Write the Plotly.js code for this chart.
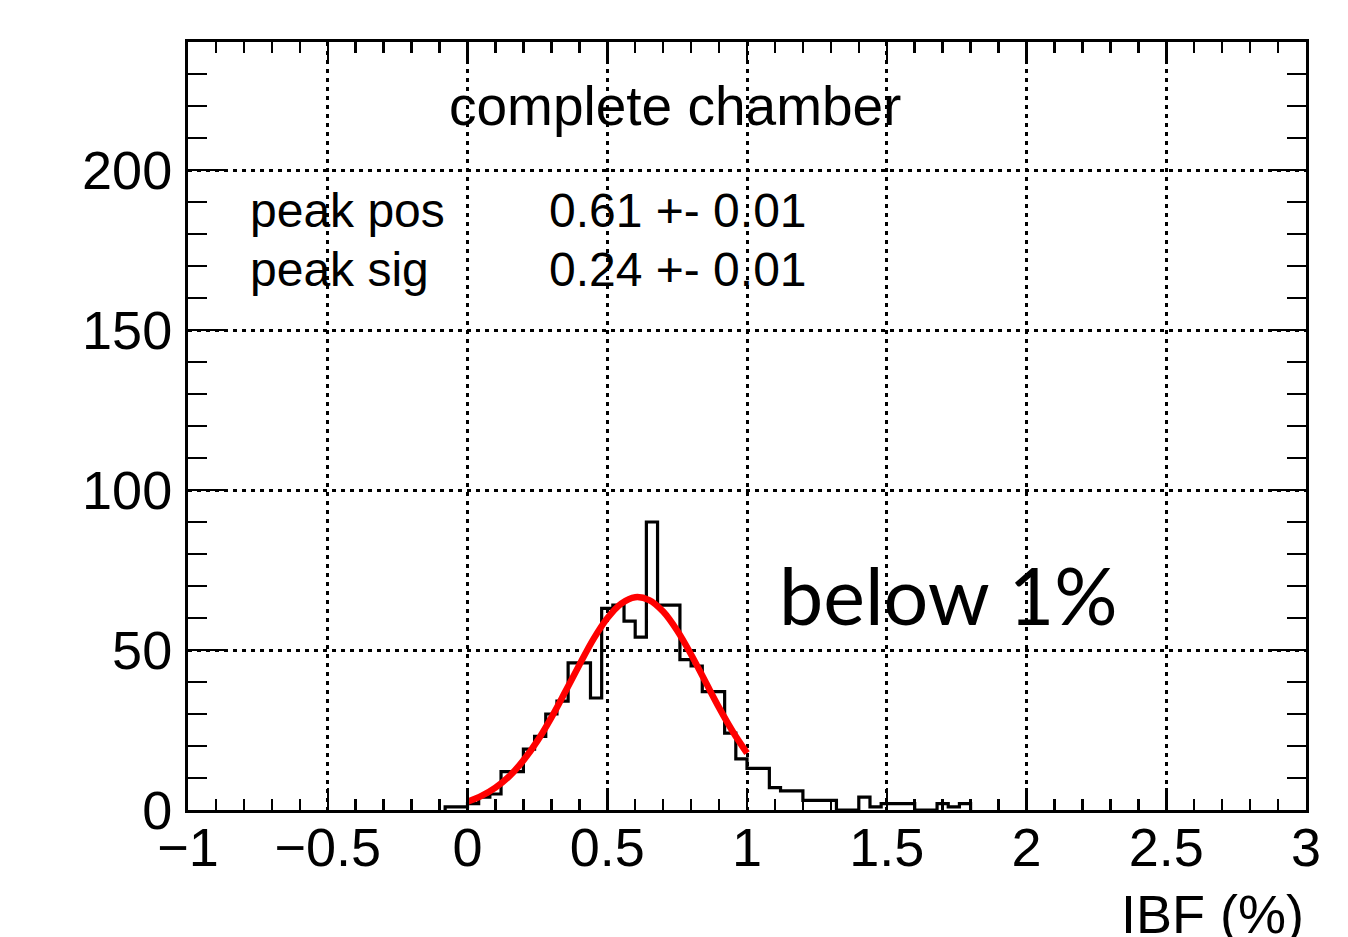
<!DOCTYPE html>
<html>
<head>
<meta charset="utf-8">
<script src="https://cdn.plot.ly/plotly-3.0.1.min.js"></script>
<style>
html,body{margin:0;padding:0;background:#fff;}
#chart{width:1348px;height:937px;}
</style>
</head>
<body>
<div id="chart"></div>
<script>
// Histogram bin left edges (IBF %) and counts
const binEdges = [-0.08,-0.04,0.00,0.04,0.08,0.12,0.16,0.20,0.24,0.28,0.32,0.36,0.40,0.44,0.48,0.52,0.56,0.60,0.64,0.68,0.72,0.76,0.80,0.84,0.88,0.92,0.96,1.00,1.04,1.08,1.12,1.16,1.20,1.24,1.28,1.32,1.36,1.40,1.44,1.48,1.52,1.56,1.60,1.64,1.68,1.72,1.76,1.80];
const binCounts = [1,1,2,4,5,12,12,19,23,30,34,46,46,35,63,64,59,54,90,64,64,47,45,37,37,24,16,13,13,7,6,6,3,3,3,0,0,4,1,2,2,2,0,0,2,1,2,0];

// Gaussian fit curve points
const fitX = [0,0.05,0.1,0.15,0.2,0.25,0.3,0.35,0.4,0.45,0.5,0.55,0.6,0.65,0.7,0.75,0.8,0.85,0.9,0.95,1.0];
const fitY = [2.6,4.4,7.0,10.6,15.5,21.6,28.9,37.0,45.3,53.3,59.9,64.5,66.5,65.6,62.0,56.1,48.6,40.3,32.0,24.4,17.8];

// Tick labels
const xTickVals = [-1,-0.5,0,0.5,1,1.5,2,2.5,3];
const xTickText = ["\u22121","\u22120.5","0","0.5","1","1.5","2","2.5","3"];
const yTickVals = [0,50,100,150,200];
const yTickText = ["0","50","100","150","200"];

// Text
const chartTitle = "complete chamber";
const statLabels = ["peak pos","peak sig"];
const statValues = ["0.61 +- 0.01","0.24 +- 0.01"];
const statY = [187.5, 168.8];
const noteText = "below 1%";
const xTitle = "IBF (%)";

// Build step outline: drop to zero at both ends
const stepX = [binEdges[0]].concat(binEdges);
const stepY = [0].concat(binCounts);

const traces = [
  {
    x: stepX, y: stepY, type: 'scatter', mode: 'lines',
    line: {shape: 'hv', color: '#000', width: 3.2},
    hoverinfo: 'skip', showlegend: false
  },
  {
    x: fitX, y: fitY, type: 'scatter', mode: 'lines',
    line: {shape: 'spline', color: '#ff0000', width: 6.5},
    hoverinfo: 'skip', showlegend: false
  },
  {
    x: [], y: [], xaxis: 'x2', yaxis: 'y2', type: 'scatter', mode: 'lines',
    showlegend: false, hoverinfo: 'skip'
  }
];

const labelFont = {family: 'Liberation Sans, Arial, sans-serif', size: 54, color: '#000'};

const common = {
  showline: true, linecolor: '#000', linewidth: 3,
  ticks: 'inside', tickcolor: '#000', tickwidth: 2.5,
  zeroline: false, fixedrange: true
};

const gridStyle = {showgrid: true, gridcolor: '#000', gridwidth: 3, griddash: '4px,5px'};

const layout = {
  width: 1348, height: 937,
  margin: {l: 188, r: 42, t: 42, b: 127, pad: 0},
  paper_bgcolor: '#fff', plot_bgcolor: '#fff',
  showlegend: false,
  xaxis: Object.assign({}, common, gridStyle, {
    range: [-1, 3],
    tickmode: 'array', tickvals: xTickVals, ticktext: xTickText,
    ticklen: 22,
    minor: {dtick: 0.1, tick0: 0, ticks: 'inside', ticklen: 11, tickcolor: '#000', tickwidth: 2.5, showgrid: false},
    tickfont: labelFont, ticklabelstandoff: -12
  }),
  yaxis: Object.assign({}, common, gridStyle, {
    range: [0, 240],
    tickmode: 'array', tickvals: yTickVals, ticktext: yTickText,
    ticklen: 36,
    minor: {dtick: 10, tick0: 0, ticks: 'inside', ticklen: 19, tickcolor: '#000', tickwidth: 2.5, showgrid: false},
    tickfont: labelFont, ticklabelstandoff: 2
  }),
  xaxis2: Object.assign({}, common, {
    overlaying: 'x', side: 'top', anchor: 'y2',
    range: [-1, 3], tickmode: 'array', tickvals: xTickVals, showticklabels: false,
    ticklen: 22,
    minor: {dtick: 0.1, tick0: 0, ticks: 'inside', ticklen: 11, tickcolor: '#000', tickwidth: 2.5, showgrid: false},
    showgrid: false
  }),
  yaxis2: Object.assign({}, common, {
    overlaying: 'y', side: 'right', anchor: 'x2',
    range: [0, 240], tickmode: 'array', tickvals: yTickVals, showticklabels: false,
    ticklen: 36,
    minor: {dtick: 10, tick0: 0, ticks: 'inside', ticklen: 19, tickcolor: '#000', tickwidth: 2.5, showgrid: false},
    showgrid: false
  }),
  annotations: [
    {text: chartTitle, xref: 'x', yref: 'y', x: 0.743, y: 220, xanchor: 'center', yanchor: 'middle',
     showarrow: false, font: {family: 'Liberation Sans, Arial, sans-serif', size: 55, color: '#000'}},
    {text: statLabels[0], xref: 'x', yref: 'y', x: -0.786, y: statY[0], xanchor: 'left', yanchor: 'middle',
     showarrow: false, font: {family: 'Liberation Sans, Arial, sans-serif', size: 48, color: '#000'}},
    {text: statLabels[1], xref: 'x', yref: 'y', x: -0.786, y: statY[1], xanchor: 'left', yanchor: 'middle',
     showarrow: false, font: {family: 'Liberation Sans, Arial, sans-serif', size: 48, color: '#000'}},
    {text: statValues[0], xref: 'x', yref: 'y', x: 0.286, y: statY[0], xanchor: 'left', yanchor: 'middle',
     showarrow: false, font: {family: 'Liberation Sans, Arial, sans-serif', size: 48, color: '#000'}},
    {text: statValues[1], xref: 'x', yref: 'y', x: 0.286, y: statY[1], xanchor: 'left', yanchor: 'middle',
     showarrow: false, font: {family: 'Liberation Sans, Arial, sans-serif', size: 48, color: '#000'}},
    {text: noteText, xref: 'x', yref: 'y', x: 1.107, y: 67.5, xanchor: 'left', yanchor: 'middle',
     showarrow: false, font: {family: 'Lato, Carlito, sans-serif', size: 79, color: '#000'}},
    {text: xTitle, xref: 'paper', yref: 'paper', x: 1, y: -0.094, xanchor: 'right', yanchor: 'top',
     showarrow: false, font: {family: 'Liberation Sans, Arial, sans-serif', size: 54, color: '#000'}}
  ]
};

Plotly.newPlot('chart', traces, layout, {displayModeBar: false, staticPlot: true});
</script>
</body>
</html>
